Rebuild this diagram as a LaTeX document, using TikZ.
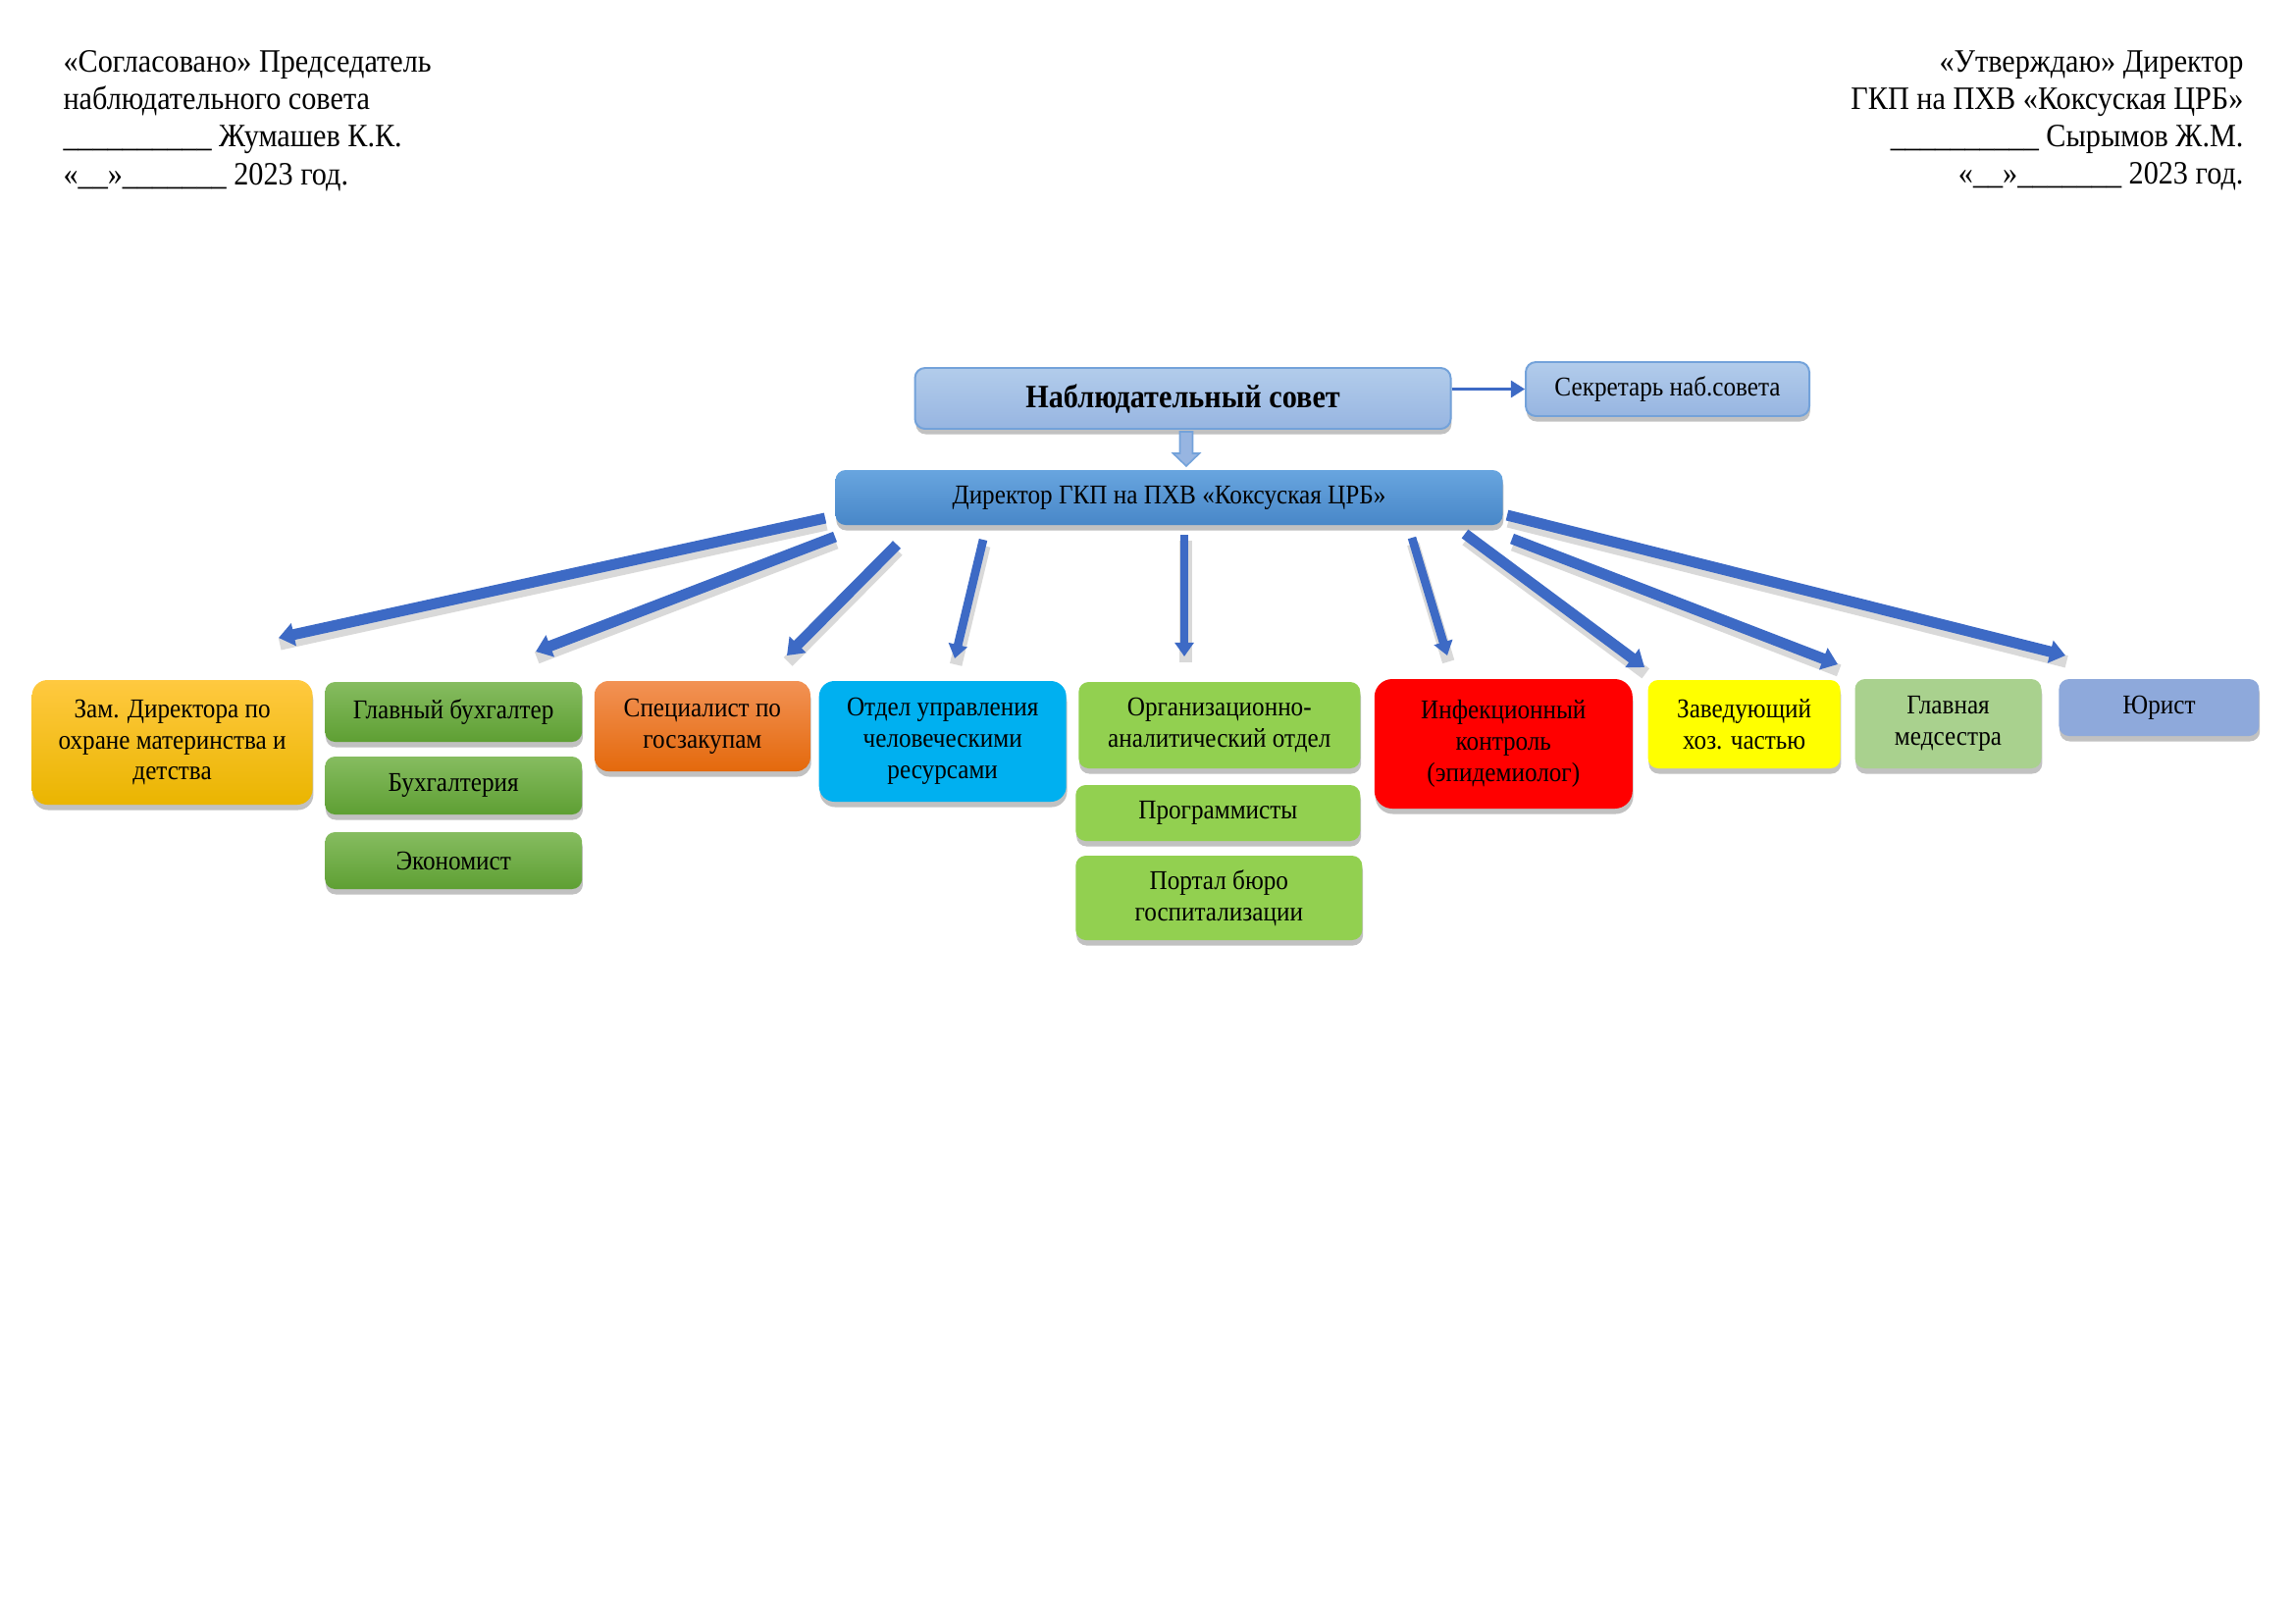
\documentclass[tikz,border=0pt]{standalone}
\usepackage{fontspec}
\setmainfont{Liberation Serif}[FakeStretch=0.91]
\usetikzlibrary{arrows.meta,shadows,calc}
\definecolor{nabtop}{HTML}{B2CCEB}
\definecolor{nabbot}{HTML}{97B5E1}
\definecolor{nabline}{HTML}{73A2DA}
\definecolor{dirtop}{HTML}{68A5DF}
\definecolor{dirbot}{HTML}{4887C8}
\definecolor{zamtop}{HTML}{FFC940}
\definecolor{zambot}{HTML}{EAB500}
\definecolor{grtop}{HTML}{86BC60}
\definecolor{grbot}{HTML}{5E9F33}
\definecolor{ortop}{HTML}{F29255}
\definecolor{orbot}{HTML}{E4690C}
\definecolor{hrcol}{HTML}{00B0F0}
\definecolor{ltgreen}{HTML}{92D050}
\definecolor{infcol}{HTML}{FF0000}
\definecolor{zavcol}{HTML}{FFFF00}
\definecolor{medcol}{HTML}{A9D18E}
\definecolor{jurcol}{HTML}{8EA9DB}
\definecolor{arrowcol}{HTML}{3D6AC5}
\newcommand{\lineU}{\_\_\_\_\_\_\_\_\_\_}
\newcommand{\dateU}{«\_\_»\_\_\_\_\_\_\_}
\begin{document}
\begin{tikzpicture}[x=0.127mm,y=-0.127mm,
  sz/.style 2 args={minimum width=#1*0.127mm, minimum height=#2*0.127mm},
  box/.style={rectangle, rounded corners=1.3mm, inner sep=0pt, align=center,
    font=\fontsize{10}{11.5}\selectfont,
    drop shadow={shadow xshift=0.1mm, shadow yshift=-0.7mm, opacity=0.35, fill=black!70}},
  nabbox/.style={box, top color=nabtop, bottom color=nabbot, draw=nabline, line width=0.25mm},
  dirbox/.style={box, top color=dirtop, bottom color=dirbot},
  zambox/.style={box, top color=zamtop, bottom color=zambot, rounded corners=2mm},
  grbox/.style={box, top color=grtop, bottom color=grbot},
  orbox/.style={box, top color=ortop, bottom color=orbot, rounded corners=1.8mm},
  flatbox/.style={box, fill=#1},
  bigarrow/.style={draw=arrowcol, line width=1.4mm, -{Triangle[width=2.9mm,length=2.0mm]}},
  midarrow/.style={bigarrow, line width=1.1mm, -{Triangle[width=2.4mm,length=1.8mm]}},
  arrowshadow/.style={draw=black, opacity=0.15, line width=1.6mm,
    transform canvas={shift={(0.15mm,-0.8mm)}}},
  header/.style={inner sep=0pt, font=\fontsize{12}{13.8}\selectfont}
]
\useasboundingbox (0,0) rectangle (2339,1654);

% header texts
\node[header, anchor=north west, align=left] (hl) at (64,51)
  {«Согласовано» Председатель\\наблюдательного совета\\\lineU{} Жумашев К.К.\\\dateU{} 2023 год.};
\node[header, anchor=north east, align=right] (hr0) at (2287,51)
  {«Утверждаю» Директор\\ГКП на ПХВ «Коксуская ЦРБ»\\\lineU{} Сырымов Ж.М.\\\dateU{} 2023 год.};

% top boxes
\node[nabbox, sz={546}{62}, font=\fontsize{12}{13.8}\selectfont\bfseries] (nab) at (1205.5,406) {Наблюдательный совет};
\node[nabbox, sz={289}{55}] (sec) at (1699.5,396.5) {Секретарь наб.совета};
\node[dirbox, sz={680}{56}] (dir) at (1191.5,507) {Директор ГКП на ПХВ «Коксуская ЦРБ»};

% arrow to secretary
\draw[draw=arrowcol, line width=0.3mm, -{Triangle[width=2.2mm,length=1.8mm]}] (nab.east |- sec.west) -- (sec.west);

% block arrow from council to director
\coordinate (ba) at ($(nab.south)+(3.5,2)$);
\draw[fill=nabbot, draw=nabline, line width=0.2mm]
  ($(ba)+(-6.5,0)$) -- ($(ba)+(6.5,0)$) -- ($(ba)+(6.5,22)$) -- ($(ba)+(13.5,22)$)
  -- ($(ba)+(0,35)$) -- ($(ba)+(-13.5,22)$) -- ($(ba)+(-6.5,22)$) -- cycle;

% lower boxes
\node[zambox, sz={286}{127}] (zam) at (175.6,756.5) {Зам. Директора по\\охране материнства и\\детства};
\node[grbox, sz={262}{61}] (gb) at (462.2,725.5) {Главный бухгалтер};
\node[grbox, sz={262}{59}] (buh) at (462.2,800.5) {Бухгалтерия};
\node[grbox, sz={262}{58}] (eco) at (462.2,877) {Экономист};
\node[orbox, sz={220}{92}] (spec) at (715.9,740) {Специалист по\\госзакупам};
\node[flatbox=hrcol, rounded corners=2mm, sz={252}{123}] (hrd) at (960.7,755.5) {Отдел управления\\человеческими\\ресурсами};
\node[flatbox=ltgreen, sz={287}{88}] (org) at (1242.8,739) {Организационно-\\аналитический отдел};
\node[flatbox=ltgreen, sz={290}{57}] (prog) at (1241.3,828.5) {Программисты};
\node[flatbox=ltgreen, sz={292}{86}] (portal) at (1242.3,915) {Портал бюро\\госпитализации};
\node[flatbox=infcol, rounded corners=2.3mm, sz={263}{132}] (inf) at (1532.3,758) {Инфекционный\\контроль\\(эпидемиолог)};
\node[flatbox=zavcol, sz={196}{90}] (zav) at (1777.6,738) {Заведующий\\хоз. частью};
\node[flatbox=medcol, sz={190}{91}] (med) at (1985.5,737.5) {Главная\\медсестра};
\node[flatbox=jurcol, sz={204}{58}] (jur) at (2200.4,721) {Юрист};

% arrow end points
\coordinate (s1) at (841,528);  \coordinate (e1) at (284,650);
\coordinate (s2) at (851,547);  \coordinate (e2) at (546,664);
\coordinate (s3) at (914,555);  \coordinate (e3) at (802,668);
\coordinate (s4) at (1002,550); \coordinate (e4) at (973,671);
\coordinate (s5) at (1207,545); \coordinate (e5) at (1207,669);
\coordinate (s6) at (1439,548); \coordinate (e6) at (1475,668);
\coordinate (s7) at (1493,544); \coordinate (e7) at (1676,680);
\coordinate (s8) at (1541,549); \coordinate (e8) at (1873,677);
\coordinate (s9) at (1536,525); \coordinate (e9) at (2105,668);

% shadows of arrows
\foreach \i in {1,2,3,4,5,6,7,8,9}{
  \draw[arrowshadow] (s\i) -- (e\i);
}
% arrows
\draw[bigarrow] (s1) -- (e1);
\draw[bigarrow] (s2) -- (e2);
\draw[bigarrow] (s3) -- (e3);
\draw[midarrow] (s4) -- (e4);
\draw[midarrow] (s5) -- (e5);
\draw[midarrow] (s6) -- (e6);
\draw[bigarrow] (s7) -- (e7);
\draw[bigarrow] (s8) -- (e8);
\draw[bigarrow] (s9) -- (e9);
\end{tikzpicture}
\end{document}
